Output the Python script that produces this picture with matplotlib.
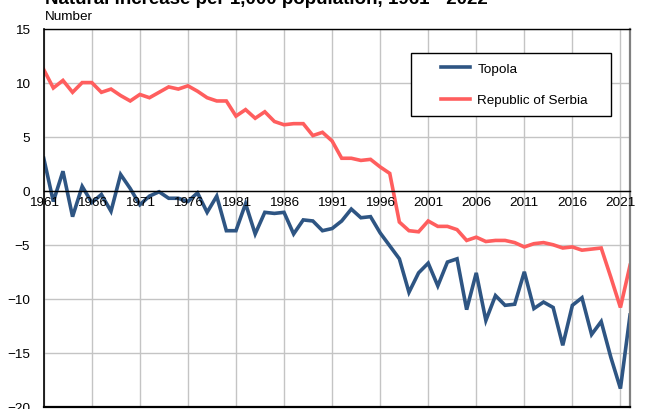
import numpy as np
import matplotlib
matplotlib.use("Agg")
import matplotlib.pyplot as plt
from matplotlib.legend_handler import HandlerLine2D

plt.rcParams["font.family"] = ["Liberation Sans", "DejaVu Sans"]

years = list(range(1961, 2023))

topola = [3.0, -1.0, 1.8, -2.4, 0.4, -1.1, -0.35, -1.9, 1.5, 0.2,
          -1.3, -0.5, -0.1, -0.7, -0.7, -1.0, -0.2, -2.0, -0.5, -3.7,
          -3.7, -1.2, -4.0, -2.0, -2.1, -2.0, -4.0, -2.7, -2.8, -3.7,
          -3.5, -2.8, -1.7, -2.5, -2.4, -3.9, -5.1, -6.3, -9.4, -7.6,
          -6.7, -8.8, -6.6, -6.3, -11.0, -7.6, -12.0, -9.7, -10.6, -10.5,
          -7.5, -10.9, -10.3, -10.8, -14.3, -10.6, -9.9, -13.3, -12.1, -15.4,
          -18.3, -11.5]

serbia = [11.2, 9.5, 10.2, 9.1, 10.0, 10.0, 9.1, 9.4, 8.8, 8.3,
          8.9, 8.6, 9.1, 9.6, 9.4, 9.7, 9.2, 8.6, 8.3, 8.3,
          6.9, 7.5, 6.7, 7.3, 6.4, 6.1, 6.2, 6.2, 5.1, 5.4,
          4.6, 3.0, 3.0, 2.8, 2.9, 2.2, 1.6, -2.9, -3.7, -3.8,
          -2.8, -3.3, -3.3, -3.6, -4.6, -4.3, -4.7, -4.6, -4.6, -4.8,
          -5.2, -4.9, -4.8, -5.0, -5.3, -5.2, -5.5, -5.4, -5.3, -8.0,
          -10.8, -6.9]

xticks = list(range(1961, 2022, 5))
yticks = list(range(-20, 16, 5))

BLUE = "#2e5583"
RED = "#ff5e5e"


class RightHandle(HandlerLine2D):
    # draw the legend line only in the right part of the handle area
    def get_xdata(self, legend, xdescent, ydescent, width, height, fontsize):
        x0 = -xdescent + width * 0.42
        x1 = -xdescent + width
        return np.array([x0, x1]), np.array([(x0 + x1) / 2])


fig = plt.figure(figsize=(6.45, 4.1), dpi=100)
ax = fig.add_axes([0.0678, 0.005, 0.909, 0.923])

ax.plot(years, topola, color=BLUE, lw=2.6, label="Topola", solid_joinstyle="miter")
ax.plot(years, serbia, color=RED, lw=2.6, label="Republic of Serbia", solid_joinstyle="miter")

ax.set_xlim(1961, 2022)
ax.set_ylim(-20, 15)
ax.set_xticks(xticks)
ax.set_xticklabels([])
ax.set_yticks(yticks)
ax.tick_params(axis="both", length=0, labelsize=9.7, colors="black")
ax.tick_params(axis="y", pad=10)

# year labels sit just under the zero line, drawn on top of the series
for yr in xticks:
    ax.annotate(str(yr), (yr, 0), xytext=(0, -4), textcoords="offset points",
                ha="center", va="top", fontsize=9.7, zorder=6, annotation_clip=False)

ax.grid(True, color="#c4c4c4", lw=1.0)
ax.set_axisbelow(True)

ax.spines["bottom"].set_position(("data", 0))
ax.spines["bottom"].set_linewidth(1.0)
ax.spines["left"].set_linewidth(1.2)
ax.spines["top"].set_linewidth(1.0)
ax.spines["right"].set_color("#808080")
ax.spines["right"].set_linewidth(1.6)
ax.axhline(-20, color="black", lw=1.6, clip_on=False, zorder=5)

leg = ax.legend(loc="upper left", bbox_to_anchor=(0.626, 0.768, 0.3416, 0.1665),
                mode="expand", borderaxespad=0, fontsize=9.7, fancybox=False,
                framealpha=1, edgecolor="black", borderpad=0.7, labelspacing=1.4,
                handlelength=3.7, handletextpad=0.55,
                handler_map={plt.Line2D: RightHandle()})
leg.get_frame().set_linewidth(1.0)
leg.set_zorder(7)

fig.text(0.0695, 1 - 4.5 / 410, "Natural increase per 1,000 population, 1961 - 2022",
         fontsize=13.5, fontweight="bold", va="baseline", ha="left")
fig.text(0.0695, 1 - 19.5 / 410, "Number", fontsize=9.7, va="baseline", ha="left")

fig.savefig("out.png", dpi=100)
